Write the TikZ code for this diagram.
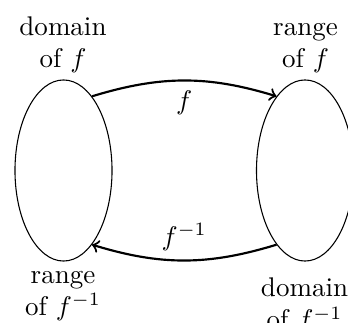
\documentclass[tikz,border=0pt]{standalone}
\usetikzlibrary{shapes.geometric}
\begin{document}
\begin{tikzpicture}[x=0.01302cm,y=0.01302cm,
  setbox/.style={draw,ellipse,thin,inner sep=0pt,minimum width=1.263cm,minimum height=2.357cm},
  maparrow/.style={->,thick,bend left=17},
  lbl/.style={align=center,inner sep=0pt}]
\useasboundingbox (0,0) rectangle (348,322);
\node[setbox] (L) at (63.5,151.5) {};
\node[setbox] (R) at (305,151.5) {};
\node[lbl] (tl) at (63,277) {domain\\of $f$};
\node[lbl] (tr) at (305.5,274) {range\\of $f$};
\node[lbl] (bl) at (63,26) {range\\of $f^{-1}$};
\node[lbl] (br) at (304.5,16) {domain\\of $f^{-1}$};
\draw[maparrow] (L.69) to node[below] (fl) {$f$} (R.111);
\draw[maparrow] (R.-111) to node[above] (gl) {$f^{-1}$} (L.-69);
\end{tikzpicture}
\end{document}
